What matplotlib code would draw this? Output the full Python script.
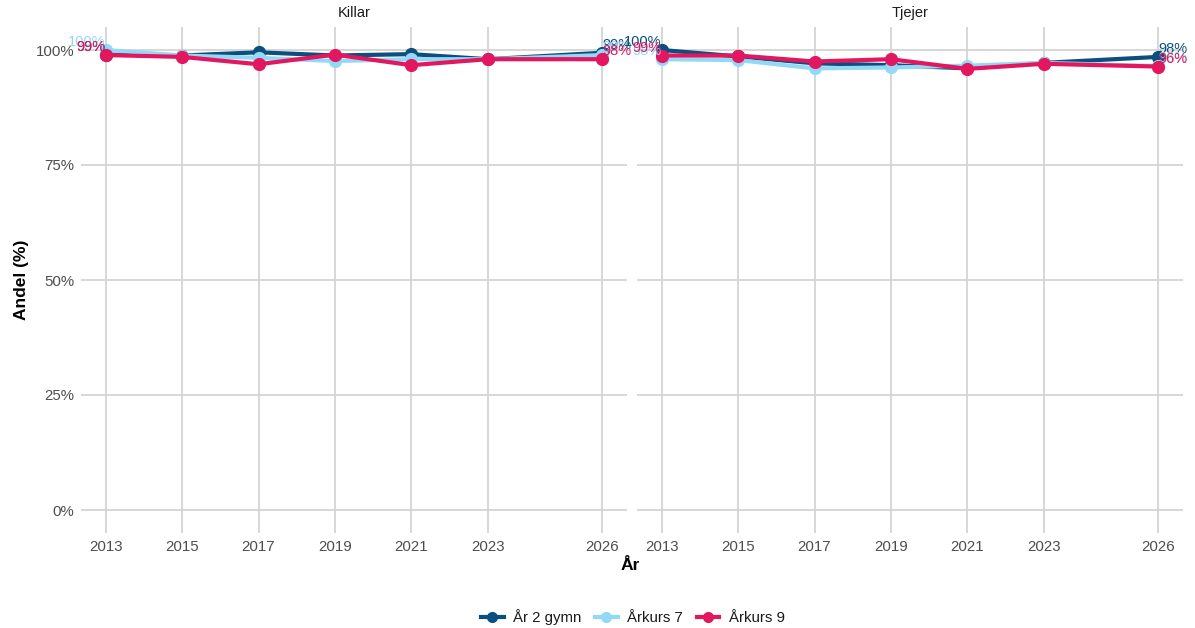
import matplotlib.pyplot as plt
from matplotlib.lines import Line2D

# data
years = [2013, 2015, 2017, 2019, 2021, 2023, 2026]
panels = ["Killar", "Tjejer"]
series = ["År 2 gymn", "Årkurs 7", "Årkurs 9"]

killar_gymn2 = [99.0, 98.8, 99.5, 98.8, 99.1, 98.0, 99.4]
killar_ak7 = [100.0, 98.8, 98.3, 97.6, 98.0, 98.0, 98.9]
killar_ak9 = [98.9, 98.5, 96.9, 99.0, 96.7, 98.0, 98.0]

tjejer_gymn2 = [100.0, 98.6, 97.1, 96.7, 96.0, 97.2, 98.5]
tjejer_ak7 = [98.0, 97.8, 96.0, 96.2, 96.6, 97.2, 96.5]
tjejer_ak9 = [98.8, 98.8, 97.5, 98.0, 95.9, 97.0, 96.4]

values = {
    "Killar": [killar_gymn2, killar_ak7, killar_ak9],
    "Tjejer": [tjejer_gymn2, tjejer_ak7, tjejer_ak9],
}
colors = ["#0B4F7E", "#93D9F6", "#E3175F"]

plt.rcParams['font.family'] = ['Liberation Sans', 'DejaVu Sans']

fig = plt.figure(figsize=(11.95, 6.28), dpi=100)
W, H = 1195, 628
boxes = [(81, 627), (637, 1183)]
top, bottom = 27, 533

grid_c = "#D4D4D4"
txt_c = "#4D4D4D"

for i, panel in enumerate(panels):
    x0, x1 = boxes[i]
    ax = fig.add_axes([x0 / W, 1 - bottom / H, (x1 - x0) / W, (bottom - top) / H])
    for j, name in enumerate(series):
        v = values[panel][j]
        ax.plot(years, v, color=colors[j], lw=3, marker='o', ms=8.5, zorder=3 + j,
                solid_capstyle='round')
        ax.text(years[0], v[0] + 1.7, f"{v[0]:.0f}%", color=colors[j], fontsize=10.5,
                ha='right', va='center', zorder=10 + j)
        ax.text(years[-1], v[-1] + 1.7, f"{v[-1]:.0f}%", color=colors[j], fontsize=10.5,
                ha='left', va='center', zorder=10 + j)
    span = years[-1] - years[0]
    ax.set_xlim(years[0] - 0.05 * span, years[-1] + 0.05 * span)
    ax.set_ylim(-5, 105)
    ax.set_xticks(years)
    ax.set_yticks([0, 25, 50, 75, 100])
    ax.set_yticklabels(["0%", "25%", "50%", "75%", "100%"])
    if i == 1:
        ax.set_yticklabels([])
    ax.grid(True, color=grid_c, lw=1.3)
    ax.set_axisbelow(True)
    for s in ax.spines.values():
        s.set_visible(False)
    ax.tick_params(length=0, labelsize=10.8, colors=txt_c, pad=5)
    ax.set_title(panel, fontsize=10.5, color="#1A1A1A", pad=7)

fig.text(22 / W, 1 - 280 / H, "Andel (%)", rotation=90, ha='center', va='center',
         fontsize=12.5, fontweight='bold')
fig.text(630 / W, 1 - 566 / H, "År", ha='center', va='center', fontsize=12.5,
         fontweight='bold')

handles = [Line2D([0], [0], color=c, lw=3, marker='o', ms=7) for c in colors]
fig.legend(handles, series, loc='center', bbox_to_anchor=(633 / W, 1 - 617 / H),
           ncol=3, frameon=False, fontsize=10.8, handlelength=1.5, columnspacing=0.9,
           handletextpad=0.65, labelcolor="#1A1A1A")

fig.savefig("out.png", dpi=100)
